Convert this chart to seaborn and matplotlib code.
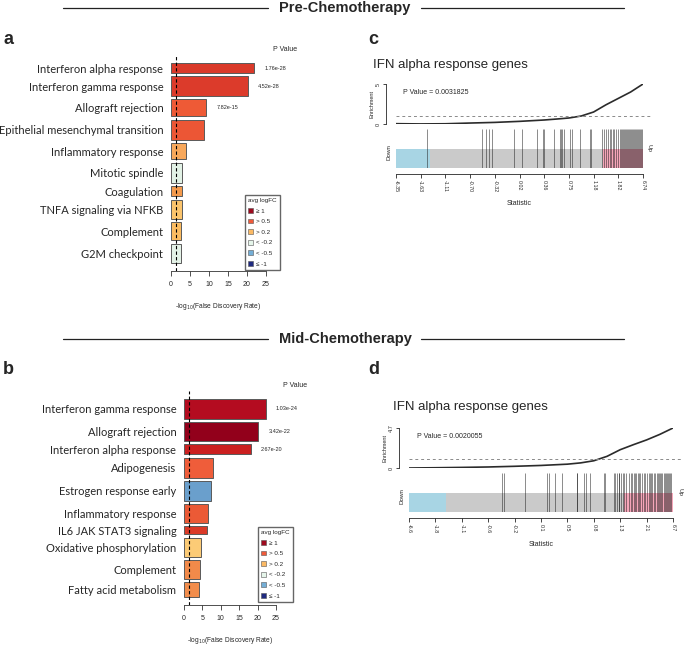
import numpy as np
import matplotlib
matplotlib.use("Agg")
import matplotlib.pyplot as plt
from matplotlib.patches import Patch
from matplotlib.lines import Line2D
import seaborn as sns

# ---- bar panels (a: pre, b: mid) ----
pre_terms = ["Interferon alpha response", "Interferon gamma response", "Allograft rejection",
             "Epithelial mesenchymal transition", "Inflammatory response", "Mitotic spindle",
             "Coagulation", "TNFA signaling via NFKB", "Complement", "G2M checkpoint"]
pre_neglog_fdr = [21.9, 20.2, 9.2, 8.7, 4.0, 3.0, 3.0, 3.0, 2.6, 2.5]
pre_set_size = [10, 19, 17, 20, 16, 20, 10, 19, 18, 19]
pre_pvals = ["1.76e-28", "4.52e-28", "7.82e-15"]

mid_terms = ["Interferon gamma response", "Allograft rejection", "Interferon alpha response",
             "Adipogenesis", "Estrogen response early", "Inflammatory response",
             "IL6 JAK STAT3 signaling", "Oxidative phosphorylation", "Complement",
             "Fatty acid metabolism"]
mid_neglog_fdr = [22.3, 20.2, 18.1, 8.0, 7.4, 6.4, 6.2, 4.7, 4.4, 4.2]
mid_set_size = [20, 19, 10, 20, 20, 19, 8, 19, 19, 15]
mid_pvals = ["1.03e-24", "3.42e-22", "2.67e-20"]

fc_labels = ["\u2265 1", "> 0.5", "> 0.2", "< -0.2", "< -0.5", "\u2264 -1"]

# ---- barcode panels (c: pre, d: mid) ----
c_rank = [0.0, 0.1, 0.2, 0.3, 0.4, 0.5, 0.6, 0.65, 0.7, 0.75, 0.8, 0.85, 0.9, 0.95, 1.0]
c_enrich = [0.04, 0.01, 0.03, 0.12, 0.2, 0.33, 0.5, 0.62, 0.75, 1.0, 1.5, 2.4, 3.2, 4.0, 5.0]
c_stat_ticks = ["-6.35", "-1.63", "-1.11", "-0.70", "-0.32", "0.02", "0.36", "0.75", "1.18", "1.82", "6.74"]
c_genes = [0.127, 0.347, 0.365, 0.377, 0.388, 0.476, 0.512, 0.570, 0.595, 0.600, 0.638,
           0.662, 0.669, 0.674, 0.681, 0.703, 0.711, 0.746, 0.784, 0.789, 0.834, 0.841,
           0.850, 0.857, 0.865, 0.870, 0.878, 0.884, 0.891, 0.899, 0.905, 0.911, 0.915,
           0.919, 0.923, 0.927, 0.931, 0.935, 0.939, 0.943, 0.947, 0.951, 0.955, 0.959,
           0.964, 0.968, 0.972, 0.976, 0.980, 0.984, 0.988, 0.992, 0.996]
c_down, c_up = 0.138, 0.838
c_pvalue = "0.0031825"

d_rank = [0.0, 0.1, 0.2, 0.3, 0.4, 0.5, 0.6, 0.65, 0.7, 0.75, 0.8, 0.85, 0.9, 0.95, 1.0]
d_enrich = [0.0, 0.03, 0.07, 0.12, 0.2, 0.3, 0.45, 0.6, 0.85, 1.37, 2.15, 2.74, 3.3, 3.95, 4.7]
d_stat_ticks = ["-6.6", "-1.8", "-1.1", "-0.6", "-0.2", "0.1", "0.5", "0.8", "1.3", "2.1", "6.7"]
d_genes = [0.353, 0.361, 0.439, 0.522, 0.532, 0.553, 0.578, 0.635, 0.638, 0.661, 0.671,
           0.684, 0.737, 0.743, 0.775, 0.781, 0.787, 0.794, 0.797, 0.803, 0.810, 0.816,
           0.823, 0.835, 0.841, 0.846, 0.851, 0.857, 0.861, 0.866, 0.871, 0.876, 0.882,
           0.889, 0.895, 0.901, 0.908, 0.911, 0.916, 0.922, 0.927, 0.933, 0.939, 0.943,
           0.947, 0.952, 0.956, 0.959, 0.965, 0.968, 0.972, 0.977, 0.981, 0.985, 0.990, 0.994]
d_down, d_up = 0.142, 0.815
d_pvalue = "0.0020055"

# colours
pre_colors = ["#DA3A2A", "#DC3B2B", "#EE5A36", "#EC5635", "#F8A85B", "#E2F2E6",
              "#F49A4C", "#FBC46C", "#FBBC62", "#E4F2E7"]
mid_colors = ["#B40C20", "#92001B", "#CB2020", "#EF5D3A", "#6A9FCC", "#EB5A36",
              "#DA3A28", "#FCCB76", "#F28A4A", "#F28D4C"]
fc_colors = ["#9E0A1E", "#EF5A3A", "#FBB964", "#E5F5EA", "#74AED6", "#1F2A80"]

sns.set_style("white")
plt.rcParams["font.family"] = ["Liberation Sans", "DejaVu Sans"]

W, H = 685, 645
fig = plt.figure(figsize=(W / 100, H / 100), dpi=100)


def px_axes(left, top, right, bottom):
    return fig.add_axes([left / W, 1 - bottom / H, (right - left) / W, (bottom - top) / H])


def header(text, y):
    fig.text(345 / W, 1 - y / H, text, ha="center", va="center", fontsize=10.5,
             fontweight="bold", family=["Liberation Sans Narrow", "Liberation Sans", "DejaVu Sans"])
    for x0, x1 in [(63, 268), (421, 624)]:
        fig.add_artist(Line2D([x0 / W, x1 / W], [1 - y / H, 1 - y / H], color="#222222", lw=0.9))


def panel_label(text, x, y):
    fig.text(x / W, 1 - y / H, text, ha="left", va="center", fontsize=13, fontweight="bold")


def bar_panel(box, terms, vals, sizes, colors, pvals, legend_xy):
    ax = px_axes(*box)
    sns.barplot(x=vals, y=terms, hue=terms, palette=colors, legend=False, orient="h",
                saturation=1, edgecolor="#5a5a5a", linewidth=0.7, ax=ax)
    sizes = np.asarray(sizes, float)
    gap = 0.2 * sizes.mean()
    right = np.cumsum(sizes + gap)
    left = right - sizes
    for patch, y0, h in zip(ax.patches, left, sizes):
        patch.set_y(y0)
        patch.set_height(h)
    pad = 0.04 * (right[-1] - left[0])
    ax.set_ylim(right[-1] + pad, left[0] - pad)
    centers = left + sizes / 2
    ax.set_yticks(centers, terms, fontsize=8, family=["Lato", "DejaVu Sans"])
    ax.tick_params(axis="y", length=0, pad=5.5)
    ax.set_ylabel("")
    ax.set_xlim(0, 25)
    ax.set_xticks([0, 5, 10, 15, 20, 25])
    ax.tick_params(axis="x", length=3.5, width=0.6, labelsize=5, pad=4, color="#333333",
                   bottom=True)
    for s in ["left", "right", "top"]:
        ax.spines[s].set_visible(False)
    ax.spines["bottom"].set_linewidth(0.6)
    ax.spines["bottom"].set_color("#333333")
    ax.set_xlabel("-log$_{10}$(False Discovery Rate)", fontsize=4.8, labelpad=9)
    ax.axvline(1.3, color="black", ls=(0, (3, 2)), lw=0.8)
    for v, c, lab in zip(vals, centers, pvals):
        ax.text(v + 2.7, c, lab, fontsize=4, va="center", ha="left", clip_on=False)
    ax.text(26.8, 1.025, "P Value", fontsize=5, ha="left", va="center",
            transform=ax.get_xaxis_transform(), clip_on=False)
    handles = [Patch(facecolor=fc, edgecolor="#555555", linewidth=0.4) for fc in fc_colors]
    fig.legend(handles, fc_labels, loc="upper left",
               bbox_to_anchor=(legend_xy[0] / W, 1 - legend_xy[1] / H),
               fontsize=4.5, title="avg logFC", title_fontsize=4.5, frameon=True,
               fancybox=False, edgecolor="#666666", handlelength=0.8, handleheight=0.8,
               handletextpad=0.5, labelspacing=0.8, borderpad=0.5, borderaxespad=0,
               alignment="left", framealpha=1)
    return ax


def barcode_panel(x0, x1, top, rank, enrich, ymax, ytop_label, stat_ticks, genes,
                  down, up, pvalue, title_xy):
    fig.text(title_xy[0] / W, 1 - title_xy[1] / H, "IFN alpha response genes",
             ha="left", va="center", fontsize=9.5)
    ax_e = px_axes(x0, top, x1, top + 40)
    sns.lineplot(x=rank, y=enrich, color="#2b2b2b", lw=1.2, ax=ax_e)
    ax_e.set_xlim(0, 1)
    ax_e.set_ylim(0, ymax)
    ax_e.plot([0, 1.036], [1, 1], ls=(0, (3, 3)), color="#8a8a8a", lw=0.7, clip_on=False)
    for s in ["right", "top", "bottom"]:
        ax_e.spines[s].set_visible(False)
    ax_e.spines["left"].set_position(("outward", 7))
    ax_e.spines["left"].set_linewidth(0.6)
    ax_e.set_xticks([])
    ax_e.set_yticks([0, ymax], ["0", ytop_label])
    ax_e.tick_params(axis="y", length=2.5, width=0.6, labelsize=4, pad=1.5, left=True,
                     labelrotation=90)
    for lab in ax_e.get_yticklabels():
        lab.set_va("center")
    ax_e.set_ylabel("Enrichment", fontsize=4, labelpad=1)
    ax_e.set_xlabel("")
    ax_e.text(0.03, 0.79, f"P Value = {pvalue}", fontsize=5, ha="left", va="center",
              transform=ax_e.transAxes)

    ax_b = px_axes(x0, top + 45, x1, top + 84)
    ax_b.set_xlim(0, 1)
    ax_b.set_ylim(0, 1)
    ax_b.axvspan(0, down, ymin=0, ymax=0.5, color="#A8D5E4", lw=0)
    ax_b.axvspan(down, up, ymin=0, ymax=0.5, color="#CACACA", lw=0)
    ax_b.axvspan(up, 1, ymin=0, ymax=0.5, color="#F5A6B9", lw=0)
    ax_b.vlines(genes, 0, 1, color="#1a1a1a", lw=0.5, alpha=0.7)
    for s in ["right", "top", "left"]:
        ax_b.spines[s].set_visible(False)
    ax_b.spines["bottom"].set_position(("outward", 4))
    ax_b.spines["bottom"].set_linewidth(0.6)
    ax_b.set_yticks([])
    ax_b.set_xticks(np.linspace(0, 1, len(stat_ticks)), stat_ticks)
    ax_b.tick_params(axis="x", length=3, width=0.6, labelsize=3.8, pad=2, bottom=True,
                     labelrotation=270)
    ax_b.set_xlabel("Statistic", fontsize=5, labelpad=5)
    ax_b.text(-0.028, 0.4, "Down", rotation=90, fontsize=4.5, ha="center", va="center",
              transform=ax_b.transAxes)
    ax_b.text(1.025, 0.5, "Up", rotation=270, fontsize=4.5, ha="center", va="center",
              transform=ax_b.transAxes)


header("Pre-Chemotherapy", 8)
header("Mid-Chemotherapy", 339)
panel_label("a", 3, 40)
panel_label("c", 368, 40)
panel_label("b", 3, 370)
panel_label("d", 368, 370)

bar_panel((171, 55, 266, 271), pre_terms, pre_neglog_fdr, pre_set_size, pre_colors,
          pre_pvals, (245, 195))
bar_panel((184, 391, 276, 605), mid_terms, mid_neglog_fdr, mid_set_size, mid_colors,
          mid_pvals, (258, 527))

barcode_panel(396, 643, 84, c_rank, c_enrich, 5, "5", c_stat_ticks, c_genes,
              c_down, c_up, c_pvalue, (373, 65))
barcode_panel(409, 673, 428, d_rank, d_enrich, 4.7, "4.7", d_stat_ticks, d_genes,
              d_down, d_up, d_pvalue, (393, 407))

fig.savefig("out.png", dpi=100, facecolor="white")
